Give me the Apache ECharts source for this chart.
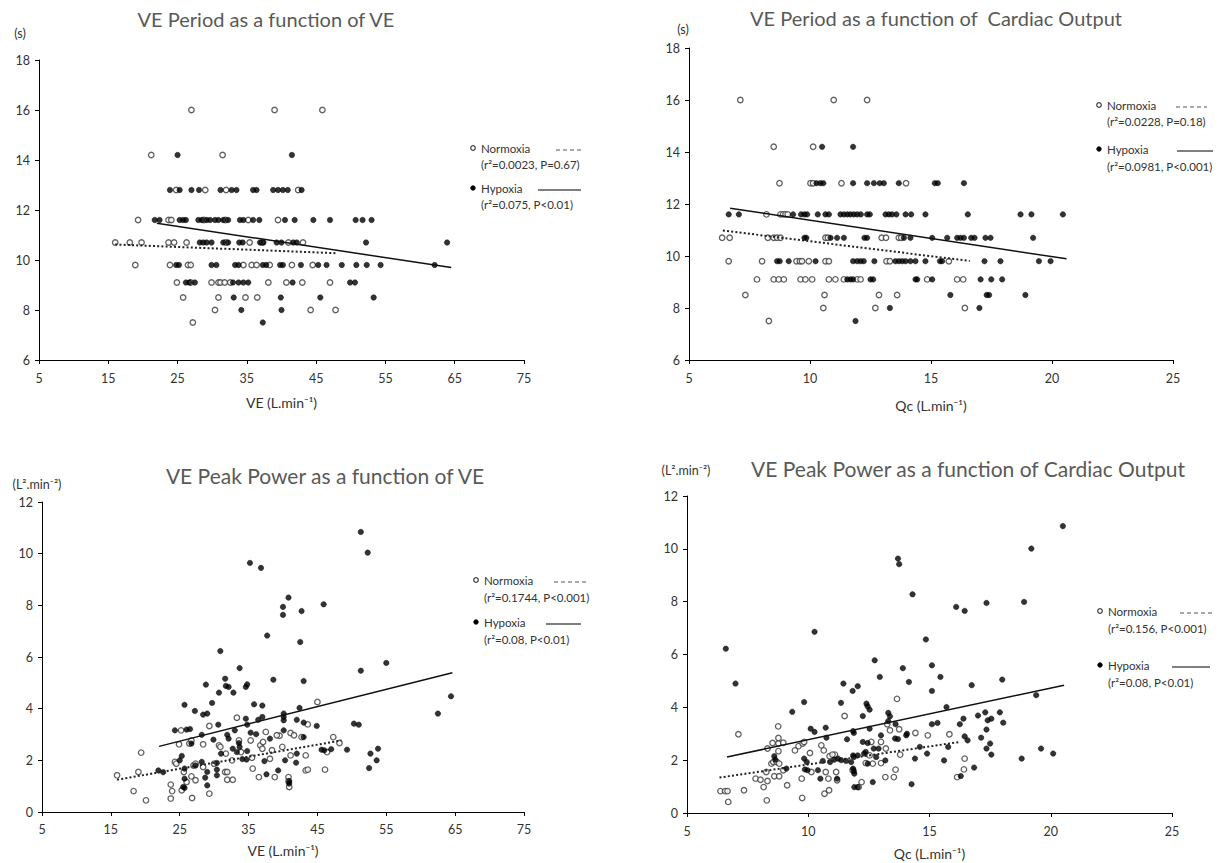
<!DOCTYPE html>
<html><head><meta charset="utf-8">
<script src="https://cdn.jsdelivr.net/npm/echarts@6/dist/echarts.min.js"></script>
<style>html,body{margin:0;padding:0;background:#fff}#c{width:1220px;height:863px}</style>
</head><body><div id="c"></div><script>
// ---------- DATA ----------
const periodLevels = [16, 14.2, 12.8, 11.6, 10.7, 9.8, 9.1, 8.5, 8.0, 7.5];
// Panel 1: VE period vs VE  (x values per period level)
const p1NormoxiaVE = [
  [27.0, 39.0, 45.9],
  [21.2, 31.5],
  [24.8, 29.0, 32.0, 42.4],
  [19.3, 23.7, 24.1, 28.8, 31.9, 35.2, 39.5],
  [16.0, 18.1, 19.8, 23.7, 24.5, 26.3, 32.0, 35.4, 37.2, 41.0, 43.1],
  [18.9, 23.9, 26.5, 26.9, 34.5, 35.7, 36.4, 38.3, 41.5, 44.5],
  [24.9, 26.9, 29.9, 30.9, 31.2, 31.8, 32.6, 38.1, 40.7, 43.0, 47.0],
  [25.8, 30.9, 34.8, 36.5],
  [30.4, 44.2, 47.8],
  [27.2]
];
const p1HypoxiaVE = [
  [],
  [25.0, 41.5],
  [23.9, 25.3, 27.0, 28.1, 31.2, 32.8, 33.5, 35.9, 36.4, 38.8, 39.5, 40.2, 40.9, 42.9],
  [21.7, 22.4, 25.3, 25.8, 26.2, 28.0, 28.5, 29.2, 29.7, 30.4, 30.9, 31.6, 32.3, 34.0, 34.5, 35.9, 36.8, 40.5, 41.9, 44.6, 47.0, 50.7, 51.7, 53.0],
  [28.2, 28.7, 29.2, 29.9, 31.6, 32.3, 33.9, 34.4, 36.9, 37.4, 39.3, 40.0, 41.7, 42.2, 52.2, 63.9],
  [24.8, 25.2, 29.9, 30.6, 33.3, 33.8, 37.3, 37.8, 39.8, 40.2, 42.8, 45.3, 46.5, 48.7, 50.8, 52.3, 54.3, 62.1],
  [26.2, 26.7, 27.5, 33.0, 33.8, 34.5, 35.2, 41.6, 49.9, 50.6],
  [33.1, 39.9, 45.6, 53.3],
  [34.2, 40.0],
  [37.3]
];
// Panel 2: VE period vs Qc
const p2NormoxiaQc = [
  [7.12, 10.98, 12.36],
  [8.50, 10.13],
  [8.74, 10.02, 10.13, 11.30, 13.97],
  [8.20, 8.78, 8.89, 8.99, 9.08],
  [6.37, 6.68, 8.26, 8.50, 8.64, 8.78, 10.64, 10.74, 12.96, 13.14, 13.67, 13.77],
  [6.64, 8.02, 9.44, 9.58, 9.67, 9.95, 10.64, 10.78, 13.16, 13.30, 15.74],
  [7.81, 8.50, 8.71, 8.92, 9.61, 9.81, 10.09, 10.78, 11.05, 11.40, 11.95, 12.09, 14.84, 16.08, 16.33],
  [7.33, 10.6, 12.85, 13.6],
  [10.55, 12.7, 16.4],
  [8.30]
];
const p2HypoxiaQc = [
  [],
  [10.50, 11.78],
  [10.27, 10.43, 10.55, 11.78, 12.36, 12.64, 12.88, 13.05, 13.67, 15.16, 15.28, 16.36],
  [6.64, 7.06, 9.30, 9.63, 9.77, 9.88, 10.32, 10.64, 10.78, 11.26, 11.40, 11.54, 11.67, 11.81, 11.95, 12.10, 12.36, 12.47, 13.12, 13.26, 13.39, 13.57, 13.95, 14.18, 14.77, 16.52, 18.70, 19.15, 20.45],
  [9.77, 9.85, 10.85, 11.12, 11.40, 12.25, 12.36, 13.88, 14.15, 15.05, 15.67, 16.08, 16.22, 16.36, 16.66, 16.80, 17.25, 17.46, 19.22],
  [8.64, 8.75, 9.12, 10.23, 11.78, 11.95, 12.09, 12.22, 12.66, 13.53, 13.67, 13.81, 13.95, 14.15, 14.36, 14.77, 15.37, 15.46, 17.21, 17.87, 19.46, 19.94],
  [11.54, 11.67, 11.78, 12.50, 12.61, 14.36, 14.43, 15.05, 17.05, 17.49, 17.94],
  [15.8, 17.3, 17.4, 18.9],
  [13.3, 17.0],
  [11.88]
];
// Panel 3: VE peak power vs VE  [VE, power]
const p3Normoxia = [[45.0,4.26],[33.3,3.65],[37.5,3.10],[39.5,2.95],[41.1,3.06],[41.6,2.97],[42.7,2.90],[29.3,3.33],[30.7,2.58],[30.9,2.52],[43.6,3.39],[47.3,2.90],[48.2,2.67],[46.4,2.32],[39.9,2.52],[36.7,2.58],[37.0,2.45],[35.3,2.77],[43.3,2.19],[41.1,2.19],[38.1,2.06],[35.5,2.10],[35.6,1.68],[31.6,1.55],[31.9,1.55],[31.9,1.25],[32.7,1.25],[30.0,1.87],[28.4,1.74],[27.0,1.80],[27.3,1.87],[25.6,1.55],[26.7,1.38],[27.3,1.23],[26.0,1.16],[26.4,2.65],[26.7,2.77],[24.9,2.62],[25.2,3.16],[28.4,2.62],[24.3,1.94],[24.5,1.87],[23.7,1.06],[23.9,0.81],[23.7,0.52],[25.3,0.84],[26.8,0.54],[29.3,0.71],[19.4,2.30],[15.9,1.42],[19.0,1.55],[18.3,0.81],[20.1,0.45],[36.5,1.35],[38.8,1.35],[40.8,1.35],[40.9,0.97],[43.3,1.61],[43.6,1.64],[46.1,1.64],[33.6,2.77],[31.7,2.26],[32.6,2.00],[33.9,2.32],[38.4,2.39],[40.8,1.19],[39.1,2.97],[37.1,2.71]];
const p3Hypoxia = [[51.3,10.84],[52.3,10.04],[35.2,9.64],[36.8,9.45],[40.8,8.30],[40.0,7.94],[40.0,7.63],[45.9,8.04],[42.7,7.78],[37.7,6.83],[42.5,6.58],[30.9,6.23],[51.3,5.47],[55.0,5.77],[33.7,5.57],[38.6,5.12],[43.0,5.07],[31.6,5.16],[31.7,4.88],[32.1,4.84],[32.8,4.62],[30.7,4.62],[28.8,4.93],[34.6,4.84],[34.8,4.94],[35.8,4.17],[37.0,4.12],[29.7,4.22],[25.7,4.15],[27.2,3.91],[28.4,3.77],[29.0,3.81],[34.6,3.61],[40.1,3.81],[40.1,3.68],[40.1,3.55],[42.4,4.03],[42.0,3.57],[43.0,3.46],[44.9,3.33],[50.3,3.42],[51.0,3.38],[62.5,3.81],[64.4,4.48],[30.6,3.38],[34.8,3.38],[36.4,3.57],[37.0,3.68],[24.3,3.16],[26.0,3.19],[26.5,3.21],[28.2,2.99],[29.9,2.80],[31.9,2.99],[32.1,2.84],[33.0,3.16],[33.6,2.67],[33.7,2.52],[35.3,3.07],[36.1,3.01],[38.1,2.84],[40.1,3.16],[43.0,2.90],[25.3,2.17],[32.7,2.45],[33.3,2.32],[34.1,2.05],[34.7,2.03],[34.8,2.36],[31.0,2.26],[28.2,1.94],[29.0,1.55],[30.4,1.64],[37.3,1.97],[39.3,1.61],[40.3,2.00],[41.9,1.91],[42.0,2.26],[37.6,1.46],[45.6,2.41],[46.0,2.39],[47.0,2.43],[49.3,2.41],[52.7,2.26],[52.5,1.70],[53.6,2.00],[53.8,2.45],[21.9,1.61],[22.6,1.54],[25.7,1.68],[25.7,1.29],[25.5,0.97],[25.7,0.93],[29.0,1.03],[28.7,1.33],[30.4,1.42],[40.9,1.19],[40.9,1.10],[30.4,1.90],[27.3,1.80],[25.0,2.00],[26.7,2.65]];
// Panel 4: VE peak power vs Qc  [Qc, power]
const p4Normoxia = [[13.66,4.32],[11.5,3.67],[13.26,3.36],[13.75,3.17],[13.37,3.13],[14.42,3.03],[14.93,2.94],[15.82,2.98],[7.12,2.98],[8.76,3.28],[8.77,2.84],[8.77,2.63],[8.97,2.66],[8.53,2.65],[8.77,2.34],[9.45,2.37],[9.6,2.53],[9.77,2.63],[9.83,2.69],[10.07,2.27],[10.54,2.56],[10.64,2.37],[10.88,2.15],[11.1,2.21],[12.6,2.69],[13.0,2.69],[13.2,2.44],[12.37,1.89],[13.0,1.89],[12.53,2.18],[13.79,2.21],[8.32,2.44],[8.48,1.87],[8.56,1.93],[8.7,1.93],[8.8,1.87],[8.6,1.39],[8.8,1.39],[8.97,1.62],[8.27,1.55],[7.83,1.30],[8.03,1.26],[8.16,0.98],[8.32,1.21],[8.29,0.48],[7.35,0.86],[6.7,0.42],[6.38,0.83],[6.57,0.83],[6.67,0.83],[9.13,1.05],[9.73,1.30],[9.75,0.57],[10.13,1.55],[10.72,1.55],[10.83,1.30],[10.67,0.73],[10.86,0.86],[11.15,1.55],[11.0,2.21],[11.19,1.24],[11.83,1.62],[12.2,1.17],[12.08,0.98],[12.66,1.87],[13.18,1.36],[13.53,1.36],[13.6,1.64],[16.14,1.36],[16.42,1.65],[16.45,2.06]];
const p4Hypoxia = [[20.5,10.86],[19.2,10.01],[13.7,9.63],[13.75,9.42],[14.3,8.28],[18.9,7.99],[17.35,7.95],[16.1,7.80],[16.45,7.65],[10.26,6.86],[14.85,6.57],[6.6,6.22],[12.74,5.78],[13.9,5.48],[15.1,5.59],[7.0,4.90],[11.45,4.90],[12.95,5.15],[14.15,4.96],[15.45,5.15],[16.74,4.84],[18.0,5.05],[12.04,4.80],[11.83,4.62],[15.1,4.62],[9.83,4.20],[9.34,3.83],[11.35,4.17],[12.4,4.14],[12.45,4.04],[12.53,3.91],[12.25,3.67],[13.3,3.79],[13.37,3.66],[13.6,3.36],[13.3,3.48],[15.7,4.01],[17.0,3.69],[17.3,3.81],[17.9,3.81],[18.04,3.42],[16.4,3.57],[17.4,3.51],[17.55,3.57],[16.25,3.36],[15.1,3.36],[15.33,3.41],[17.35,3.16],[10.1,3.19],[10.26,3.07],[10.72,3.23],[11.85,3.10],[11.88,3.03],[12.53,3.19],[13.0,2.94],[13.58,2.82],[13.7,2.80],[14.07,3.00],[14.04,2.94],[11.6,2.79],[10.75,2.85],[12.25,2.69],[12.45,2.65],[12.7,2.44],[12.9,2.44],[14.6,2.50],[16.45,2.90],[16.57,2.75],[17.13,2.85],[17.5,2.63],[17.35,2.44],[17.55,2.21],[15.77,2.50],[14.9,2.25],[14.4,2.06],[15.6,1.99],[18.8,2.06],[19.6,2.44],[20.1,2.25],[19.4,4.46],[8.6,2.15],[8.64,2.02],[9.83,2.06],[9.94,1.93],[9.86,1.65],[9.97,1.62],[10.4,1.62],[10.6,1.97],[10.9,1.93],[11.07,2.02],[11.23,2.06],[11.36,2.00],[11.56,1.97],[11.77,1.93],[11.85,2.18],[11.88,2.12],[12.04,2.18],[11.85,1.68],[11.88,1.59],[11.9,1.49],[12.3,2.25],[12.37,2.31],[12.45,1.87],[13.18,1.99],[12.8,2.12],[9.1,1.68],[10.5,1.30],[11.19,1.30],[11.9,0.98],[12.04,0.98],[12.66,1.17],[14.26,1.09],[16.29,1.40],[16.84,1.72]];
// Trend line end points
const p1TrendNormoxia = [[16.0, 10.62], [48.1, 10.27]];
const p1TrendHypoxia  = [[22.0, 11.47], [64.5, 9.70]];
const p2TrendNormoxia = [[6.4, 10.98], [16.6, 9.81]];
const p2TrendHypoxia  = [[6.7, 11.84], [20.6, 9.89]];
const p3TrendNormoxia = [[15.9, 1.25], [48.5, 2.77]];
const p3TrendHypoxia  = [[22.0, 2.54], [64.6, 5.39]];
const p4TrendNormoxia = [[6.34, 1.34], [16.25, 2.69]];
const p4TrendHypoxia  = [[6.65, 2.12], [20.55, 4.84]];
// Texts
const titles = ['VE Period as a function of VE', 'VE Period as a function of  Cardiac Output', 'VE Peak Power as a function of VE', 'VE Peak Power as a function of Cardiac Output'];
const yUnits = ['(s)', '(s)', '(L\u00B2.min\u207B\u00B2)', '(L\u00B2.min\u207B\u00B2)'];
const xNames = ['VE (L.min\u207B\u00B9)', 'Qc (L.min\u207B\u00B9)', 'VE (L.min\u207B\u00B9)', 'Qc (L.min\u207B\u00B9)'];
const statsNormoxia = ['(r\u00B2=0.0023, P=0.67)', '(r\u00B2=0.0228, P=0.18)', '(r\u00B2=0.1744, P<0.001)', '(r\u00B2=0.156, P<0.001)'];
const statsHypoxia  = ['(r\u00B2=0.075, P<0.01)', '(r\u00B2=0.0981, P<0.001)', '(r\u00B2=0.08, P<0.01)', '(r\u00B2=0.08, P<0.01)'];
const xRanges = [[5, 75, 10], [5, 25, 5], [5, 75, 10], [5, 25, 5]];
const yRanges = [[6, 18, 2], [6, 18, 2], [0, 12, 2], [0, 12, 2]];

// ---------- BUILD ----------
function expand(levels, table) {
  const out = [];
  table.forEach((xs, i) => xs.forEach(x => out.push([x, levels[i]])));
  return out;
}
const FONT = 'Lato, "Open Sans", "DejaVu Sans", sans-serif';
const grids = [
  {left: 39, top: 60, width: 485, height: 300},
  {left: 689, top: 48, width: 484, height: 312},
  {left: 42, top: 502, width: 482, height: 310},
  {left: 687, top: 496, width: 485, height: 317}
];
const labelMargins = [12, 12, 11, 12];
const nameGaps = [35, 38, 31, 33];
const scatterSets = [
  [expand(periodLevels, p1NormoxiaVE), expand(periodLevels, p1HypoxiaVE)],
  [expand(periodLevels, p2NormoxiaQc), expand(periodLevels, p2HypoxiaQc)],
  [p3Normoxia, p3Hypoxia],
  [p4Normoxia, p4Hypoxia]
];
const trendSets = [
  [p1TrendNormoxia, p1TrendHypoxia],
  [p2TrendNormoxia, p2TrendHypoxia],
  [p3TrendNormoxia, p3TrendHypoxia],
  [p4TrendNormoxia, p4TrendHypoxia]
];
const xAxes = [], yAxes = [], series = [];
for (let i = 0; i < 4; i++) {
  xAxes.push({
    type: 'value', gridIndex: i, min: xRanges[i][0], max: xRanges[i][1], interval: xRanges[i][2],
    name: xNames[i], nameLocation: 'middle', nameGap: nameGaps[i],
    nameTextStyle: {fontFamily: FONT, fontSize: 14, color: '#333'},
    axisLine: {show: true, lineStyle: {color: '#000', width: 1}},
    axisTick: {show: true, inside: false, length: 4, lineStyle: {color: '#000'}},
    axisLabel: {fontFamily: FONT, fontSize: 12.5, color: '#333', margin: labelMargins[i]},
    splitLine: {show: false}
  });
  yAxes.push({
    type: 'value', gridIndex: i, min: yRanges[i][0], max: yRanges[i][1], interval: yRanges[i][2],
    axisLine: {show: true, lineStyle: {color: '#000', width: 1}},
    axisTick: {show: true, inside: false, length: 4, lineStyle: {color: '#000'}},
    axisLabel: {fontFamily: FONT, fontSize: 12.5, color: '#333', margin: 9},
    splitLine: {show: false}
  });
  series.push({
    type: 'scatter', name: 'Normoxia', xAxisIndex: i, yAxisIndex: i, data: scatterSets[i][0],
    symbol: 'circle', symbolSize: 5.5,
    itemStyle: {color: '#fff', borderColor: '#3a3a3a', borderWidth: 1.3}
  });
  series.push({
    type: 'scatter', name: 'Hypoxia', xAxisIndex: i, yAxisIndex: i, data: scatterSets[i][1],
    symbol: 'circle', symbolSize: 5.5,
    itemStyle: {color: '#000', borderColor: '#000', borderWidth: 0.5}
  });
  series.push({
    type: 'line', name: 'Normoxia trend', xAxisIndex: i, yAxisIndex: i, data: trendSets[i][0],
    showSymbol: false, symbol: 'none', z: 5,
    lineStyle: {color: '#222', width: 2, type: [2, 2.2]}
  });
  series.push({
    type: 'line', name: 'Hypoxia trend', xAxisIndex: i, yAxisIndex: i, data: trendSets[i][1],
    showSymbol: false, symbol: 'none', z: 5,
    lineStyle: {color: '#111', width: 1.5, type: 'solid'}
  });
}

// Titles, unit labels, legends as graphic text
const titleSizes = [20, 20, 21, 21];
const titlePos = [[266, 19], [936, 18], [325, 475], [968, 468]];
const unitPos = [[20, 33], [683, 29], [37, 484], [686, 470]];
const legendPos = [
  {x: 473, y1: 148, y2: 164, y3: 188, y4: 204, dash: [556, 583], solid: [538, 581]},
  {x: 1099, y1: 105, y2: 121, y3: 149, y4: 166, dash: [1176, 1207], solid: [1177, 1213]},
  {x: 476, y1: 580, y2: 597, y3: 622, y4: 639, dash: [554, 587], solid: [546, 581]},
  {x: 1100, y1: 611, y2: 628, y3: 665, y4: 682, dash: [1180, 1212], solid: [1172, 1210]}
];
function txt(text, x, y, size, color, align) {
  return {type: 'text', x: x, y: y, silent: true,
    style: {text: text, font: size + 'px ' + FONT, fill: color,
      align: align || 'left', verticalAlign: 'middle', textAlign: align || 'left', textVerticalAlign: 'middle'}};
}
const graphics = [];
for (let i = 0; i < 4; i++) {
  graphics.push(txt(titles[i], titlePos[i][0], titlePos[i][1], titleSizes[i], '#595959', 'center'));
  graphics.push(txt(yUnits[i], unitPos[i][0], unitPos[i][1], 12.5, '#333', 'center'));
  const L = legendPos[i];
  graphics.push({type: 'circle', silent: true, shape: {cx: L.x, cy: L.y1, r: 2.3}, style: {fill: '#fff', stroke: '#3a3a3a', lineWidth: 1.2}});
  graphics.push(txt('Normoxia', L.x + 8, L.y1, 11.5, '#333'));
  graphics.push({type: 'line', silent: true, shape: {x1: L.dash[0], y1: L.y1 + 2, x2: L.dash[1], y2: L.y1 + 2}, style: {stroke: '#555', lineWidth: 1, lineDash: [4, 3]}});
  graphics.push(txt(statsNormoxia[i], L.x + 8, L.y2, 11.5, '#333'));
  graphics.push({type: 'circle', silent: true, shape: {cx: L.x, cy: L.y3, r: 2.4}, style: {fill: '#000', stroke: '#000', lineWidth: 0.5}});
  graphics.push(txt('Hypoxia', L.x + 8, L.y3, 11.5, '#333'));
  graphics.push({type: 'line', silent: true, shape: {x1: L.solid[0], y1: L.y3 + 2, x2: L.solid[1], y2: L.y3 + 2}, style: {stroke: '#555', lineWidth: 1.5}});
  graphics.push(txt(statsHypoxia[i], L.x + 8, L.y4, 11.5, '#333'));
}

const chart = echarts.init(document.getElementById('c'), null, {renderer: 'svg'});
chart.setOption({
  animation: false,
  backgroundColor: '#fff',
  grid: grids,
  xAxis: xAxes,
  yAxis: yAxes,
  series: series,
  graphic: graphics
});
</script></body></html>
